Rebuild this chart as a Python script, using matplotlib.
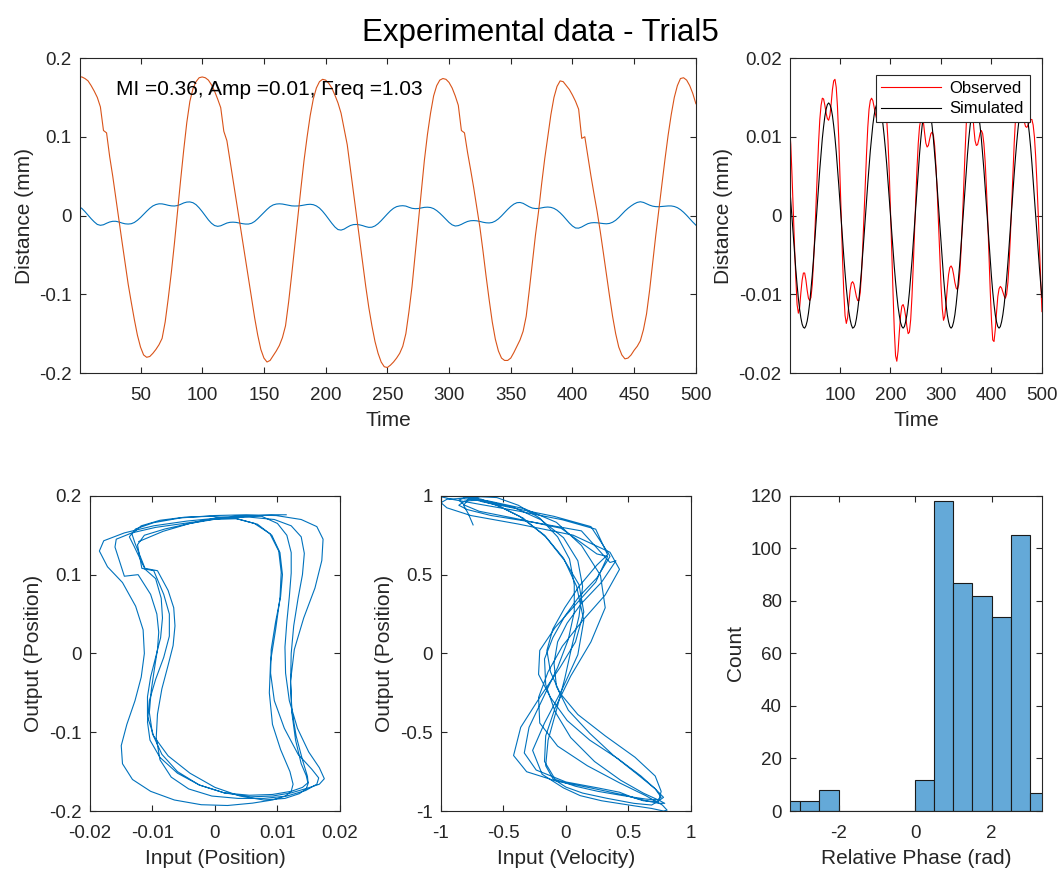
import numpy as np
import matplotlib
matplotlib.use("Agg")
import matplotlib.pyplot as plt

plt.rcParams['font.family'] = ['Liberation Sans', 'DejaVu Sans']
plt.rcParams['axes.unicode_minus'] = False

# time samples (every 2.5 steps)
time = np.arange(0, 500.1, 2.5)

# output position (orange, mm)
output_pos = [
    0.176, 0.176, 0.174, 0.171, 0.165, 0.158, 0.15, 0.138, 0.108, 0.105,
    0.075, 0.05, 0.022, -0.005, -0.033, -0.06, -0.087, -0.11, -0.132, -0.152,
    -0.167, -0.177, -0.18, -0.179, -0.175, -0.17, -0.164, -0.156, -0.135, -0.105,
    -0.072, -0.035, 0.005, 0.045, 0.083, 0.118, 0.145, 0.161, 0.17, 0.175,
    0.176, 0.175, 0.172, 0.166, 0.158, 0.148, 0.137, 0.107, 0.095, 0.07,
    0.045, 0.02, -0.005, -0.03, -0.055, -0.08, -0.105, -0.13, -0.152, -0.17,
    -0.181, -0.186, -0.184, -0.178, -0.172, -0.165, -0.155, -0.14, -0.11, -0.075,
    -0.038, 0.0, 0.035, 0.07, 0.1, 0.127, 0.148, 0.162, 0.17, 0.173,
    0.172, 0.168, 0.162, 0.153, 0.143, 0.13, 0.11, 0.09, 0.06, 0.03,
    0.0, -0.03, -0.06, -0.09, -0.117, -0.14, -0.16, -0.175, -0.186, -0.192,
    -0.193, -0.19, -0.186, -0.181, -0.175, -0.166, -0.15, -0.122, -0.09, -0.05,
    -0.01, 0.03, 0.07, 0.103, 0.13, 0.152, 0.165, 0.172, 0.174, 0.173,
    0.169, 0.162, 0.152, 0.14, 0.108, 0.105, 0.08, 0.058, 0.035, 0.01,
    -0.015, -0.045, -0.077, -0.107, -0.135, -0.157, -0.172, -0.181, -0.184, -0.184,
    -0.181, -0.174, -0.166, -0.158, -0.147, -0.128, -0.095, -0.06, -0.025, 0.005,
    0.04, 0.072, 0.1, 0.128, 0.15, 0.164, 0.171, 0.17, 0.165, 0.16,
    0.153, 0.145, 0.135, 0.098, 0.1, 0.075, 0.05, 0.027, 0.005, -0.02,
    -0.047, -0.075, -0.102, -0.128, -0.15, -0.167, -0.177, -0.182, -0.181, -0.177,
    -0.171, -0.166, -0.159, -0.145, -0.125, -0.095, -0.06, -0.025, 0.008, 0.04,
    0.072, 0.102, 0.128, 0.15, 0.165, 0.174, 0.175, 0.172, 0.165, 0.155,
    0.142,
]

# input position (blue / observed, mm)
input_pos = [
    0.0114, 0.009, 0.005, 0.0005, -0.004, -0.008, -0.0113, -0.0124, -0.0117, -0.0098,
    -0.0082, -0.0073, -0.0073, -0.0082, -0.0095, -0.0105, -0.0108, -0.0104, -0.0088, -0.006,
    -0.0025, 0.0015, 0.0055, 0.0092, 0.0122, 0.014, 0.0149, 0.0148, 0.014, 0.013,
    0.0123, 0.0121, 0.0127, 0.0142, 0.016, 0.0171, 0.0173, 0.0163, 0.0138, 0.0098,
    0.005, -0.0002, -0.0055, -0.0098, -0.0127, -0.0137, -0.013, -0.0112, -0.0095, -0.0086,
    -0.0084, -0.0087, -0.0095, -0.0103, -0.0108, -0.0108, -0.0098, -0.0075, -0.004, 0.0,
    0.004, 0.0078, 0.0112, 0.0135, 0.0146, 0.0149, 0.0146, 0.0138, 0.0129, 0.0123,
    0.0121, 0.0122, 0.0126, 0.0133, 0.014, 0.0143, 0.0138, 0.0122, 0.0095, 0.0055,
    0.0007, -0.0045, -0.0098, -0.0145, -0.0178, -0.0185, -0.0172, -0.0148, -0.0127, -0.0115,
    -0.0113, -0.0118, -0.0128, -0.0141, -0.015, -0.0148, -0.0132, -0.0103, -0.0065, -0.0022,
    0.002, 0.006, 0.0092, 0.0113, 0.0122, 0.0125, 0.012, 0.0105, 0.0092, 0.0087,
    0.0089, 0.0097, 0.0104, 0.0106, 0.0102, 0.0088, 0.0063, 0.003, -0.0008, -0.0048,
    -0.0088, -0.0118, -0.0133, -0.0128, -0.0112, -0.0092, -0.0075, -0.0066, -0.0064, -0.0067,
    -0.0075, -0.0085, -0.0092, -0.0094, -0.0088, -0.007, -0.0042, -0.0005, 0.0037, 0.0078,
    0.0115, 0.0145, 0.0163, 0.0166, 0.0155, 0.0133, 0.0111, 0.0095, 0.0089, 0.009,
    0.0097, 0.0105, 0.0108, 0.0104, 0.0091, 0.0068, 0.0035, -0.0005, -0.005, -0.0095,
    -0.0133, -0.0158, -0.016, -0.0145, -0.0123, -0.0103, -0.0093, -0.009, -0.0092, -0.0097,
    -0.0102, -0.0105, -0.01, -0.0085, -0.006, -0.0025, 0.0015, 0.0057, 0.0092, 0.0122,
    0.0148, 0.0167, 0.0175, 0.0167, 0.015, 0.0132, 0.0119, 0.0113, 0.0112, 0.0115,
    0.0119, 0.0122, 0.0122, 0.0115, 0.01, 0.0075, 0.0042, 0.0003, -0.004, -0.0083,
    -0.0122,
]

# simulated input (black, mm)
simulated = [
    0.004, 0.0018, -0.0004, -0.0027, -0.0049, -0.0069, -0.0088, -0.0105, -0.0119, -0.013,
    -0.0138, -0.0142, -0.0143, -0.014, -0.0134, -0.0124, -0.0111, -0.0094, -0.0076, -0.0055,
    -0.0032, -0.0009, 0.0014, 0.0037, 0.0059, 0.0079, 0.0098, 0.0113, 0.0126, 0.0135,
    0.0141, 0.0143, 0.0141, 0.0136, 0.0127, 0.0114, 0.0099, 0.0081, 0.006, 0.0039,
    0.0016, -0.0007, -0.003, -0.0052, -0.0073, -0.0092, -0.0108, -0.0122, -0.0132, -0.0139,
    -0.0143, -0.0142, -0.0139, -0.0131, -0.012, -0.0106, -0.0089, -0.007, -0.0049, -0.0027,
    -0.0004, 0.0018, 0.0041, 0.0062, 0.0082, 0.0099, 0.0115, 0.0127, 0.0136, 0.0141,
    0.0143, 0.0141, 0.0136, 0.0127, 0.0116, 0.0101, 0.0084, 0.0065, 0.0044, 0.0022,
    0.0, -0.0022, -0.0044, -0.0065, -0.0084, -0.0101, -0.0116, -0.0127, -0.0136, -0.0141,
    -0.0143, -0.0141, -0.0135, -0.0126, -0.0113, -0.0097, -0.0078, -0.0058, -0.0035, -0.0012,
    0.0012, 0.0035, 0.0057, 0.0078, 0.0097, 0.0113, 0.0126, 0.0135, 0.0141, 0.0143,
    0.0141, 0.0135, 0.0126, 0.0113, 0.0097, 0.0078, 0.0058, 0.0035, 0.0012, -0.0012,
    -0.0035, -0.0057, -0.0078, -0.0097, -0.0113, -0.0126, -0.0135, -0.0141, -0.0143, -0.0141,
    -0.0135, -0.0126, -0.0113, -0.0097, -0.0078, -0.0058, -0.0035, -0.0012, 0.0012, 0.0035,
    0.0057, 0.0078, 0.0097, 0.0113, 0.0126, 0.0135, 0.0141, 0.0143, 0.0141, 0.0135,
    0.0126, 0.0113, 0.0097, 0.0078, 0.0058, 0.0035, 0.0012, -0.0012, -0.0035, -0.0057,
    -0.0078, -0.0097, -0.0113, -0.0126, -0.0135, -0.0141, -0.0143, -0.0141, -0.0135, -0.0126,
    -0.0114, -0.0098, -0.008, -0.006, -0.0038, -0.0015, 0.0008, 0.0031, 0.0053, 0.0074,
    0.0093, 0.011, 0.0124, 0.0134, 0.014, 0.0143, 0.0142, 0.0138, 0.013, 0.0118,
    0.0104, 0.0087, 0.0067, 0.0045, 0.0023, 0.0, -0.0023, -0.0045, -0.0067, -0.0087,
    -0.0104,
]

# relative phase histogram
phase_edges = np.arange(-3.5, 3.51, 0.5)
phase_counts = [4, 4, 8, 0, 0, 0, 0, 12, 118, 87, 82, 74, 105, 7]

mi_text = "MI =0.36, Amp =0.01, Freq =1.03"

blue = '#0072BD'
orange = '#D95319'
dark = '#262626'
tick_fs = 13.5
label_fs = 15
lw = 0.8

fig = plt.figure(figsize=(10.6, 8.73), dpi=100)
fig.suptitle("Experimental data - Trial5", fontsize=22.5, x=0.51, y=0.979, color='black')


def style(ax, xlabel, ylabel):
    ax.tick_params(direction='in', top=True, right=True, labelsize=tick_fs,
                   colors=dark, length=4, width=0.8)
    ax.tick_params(axis='x', pad=10)
    ax.tick_params(axis='y', pad=6)
    for s in ax.spines.values():
        s.set_color(dark)
        s.set_linewidth(0.8)
    ax.set_xlabel(xlabel, fontsize=label_fs, color=dark, labelpad=5)
    ax.set_ylabel(ylabel, fontsize=label_fs, color=dark, labelpad=4)


ax1 = fig.add_axes([0.0755, 0.5727, 0.581, 0.3608])
ax1.plot(time, input_pos, color=blue, lw=lw)
ax1.plot(time, output_pos, color=orange, lw=lw)
ax1.set_xlim(1, 500)
ax1.set_ylim(-0.2, 0.2)
ax1.set_xticks(np.arange(50, 501, 50))
ax1.set_yticks([-0.2, -0.1, 0, 0.1, 0.2])
ax1.set_yticklabels(['-0.2', '-0.1', '0', '0.1', '0.2'])
ax1.text(30, 0.16, mi_text, fontsize=15, va='center', color='black')
style(ax1, "Time", "Distance (mm)")

ax2 = fig.add_axes([0.7453, 0.5727, 0.2377, 0.3608])
ax2.plot(time, input_pos, color='red', lw=lw, label='Observed')
ax2.plot(time, simulated, color='black', lw=lw, label='Simulated')
ax2.set_xlim(1, 500)
ax2.set_ylim(-0.02, 0.02)
ax2.set_xticks([100, 200, 300, 400, 500])
ax2.set_yticks([-0.02, -0.01, 0, 0.01, 0.02])
ax2.set_yticklabels(['-0.02', '-0.01', '0', '0.01', '0.02'])
leg = ax2.legend(loc='upper right', bbox_to_anchor=(0.952, 0.947), fontsize=12,
                 fancybox=False, framealpha=1, edgecolor=dark, borderpad=0.35,
                 handlelength=3.6, handletextpad=0.5, labelspacing=0.35,
                 borderaxespad=0)
leg.get_frame().set_linewidth(0.8)
style(ax2, "Time", "Distance (mm)")

ax3 = fig.add_axes([0.0849, 0.071, 0.2358, 0.361])
ax3.plot(input_pos, output_pos, color=blue, lw=lw)
ax3.set_xlim(-0.02, 0.02)
ax3.set_ylim(-0.2, 0.2)
ax3.set_xticks([-0.02, -0.01, 0, 0.01, 0.02])
ax3.set_xticklabels(['-0.02', '-0.01', '0', '0.01', '0.02'])
ax3.set_yticks([-0.2, -0.1, 0, 0.1, 0.2])
ax3.set_yticklabels(['-0.2', '-0.1', '0', '0.1', '0.2'])
style(ax3, "Input (Position)", "Output (Position)")

# normalised velocity of the input against normalised output position
out = np.array(output_pos)
vel = np.gradient(np.array(input_pos), time)
vel_n = vel / np.abs(vel).max()
out_n = 2 * (out - out.min()) / (out.max() - out.min()) - 1

ax4 = fig.add_axes([0.416, 0.071, 0.2358, 0.361])
ax4.plot(vel_n, out_n, color=blue, lw=lw)
ax4.set_xlim(-1, 1)
ax4.set_ylim(-1, 1)
ax4.set_xticks([-1, -0.5, 0, 0.5, 1])
ax4.set_xticklabels(['-1', '-0.5', '0', '0.5', '1'])
ax4.set_yticks([-1, -0.5, 0, 0.5, 1])
ax4.set_yticklabels(['-1', '-0.5', '0', '0.5', '1'])
style(ax4, "Input (Velocity)", "Output (Position)")

ax5 = fig.add_axes([0.7453, 0.071, 0.2377, 0.361])
ax5.bar(phase_edges[:-1], phase_counts, width=0.5, align='edge',
        color='#64A9D8', edgecolor='#1a1a1a', linewidth=0.8)
ax5.set_xlim(-3.27, 3.32)
ax5.set_ylim(0, 120)
ax5.set_xticks([-2, 0, 2])
ax5.set_xticklabels(['-2', '0', '2'])
ax5.set_yticks(np.arange(0, 121, 20))
style(ax5, "Relative Phase (rad)", "Count")

fig.savefig("out.png", dpi=100, facecolor='white')
